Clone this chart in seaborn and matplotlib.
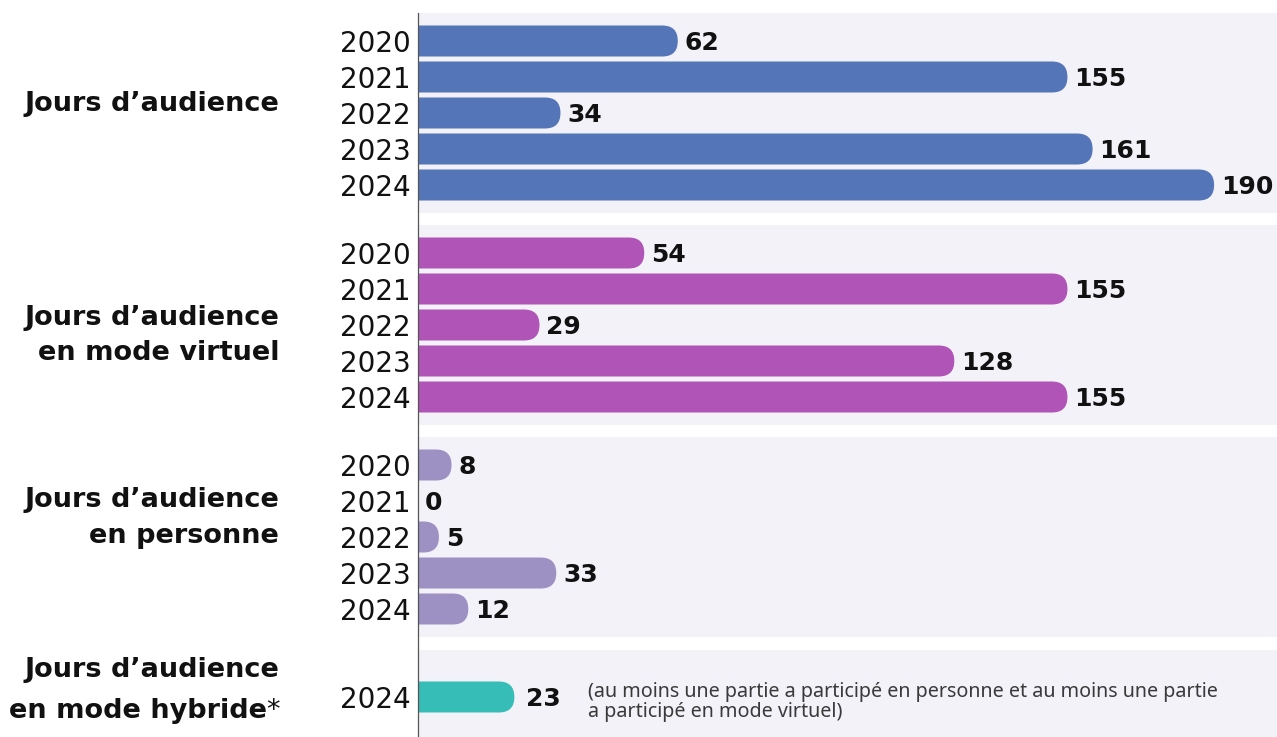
import numpy as np
import pandas as pd
import matplotlib
matplotlib.use("Agg")
import matplotlib.pyplot as plt
import seaborn as sns
from matplotlib.patches import FancyBboxPatch
from matplotlib.transforms import blended_transform_factory

# ---------------- data ----------------
group_lines = [
    ["Jours d’audience"],
    ["Jours d’audience", "en mode virtuel"],
    ["Jours d’audience", "en personne"],
    ["Jours d’audience", "en mode hybride"],
]
years_main = ["2020", "2021", "2022", "2023", "2024"]
jours = [62, 155, 34, 161, 190]
virtuel = [54, 155, 29, 128, 155]
personne = [8, 0, 5, 33, 12]
hybride_years = ["2024"]
hybride = [23]
note_lines = ["(au moins une partie a participé en personne et au moins une partie",
              "a participé en mode virtuel)"]
colors = ["#5475b8", "#b054b7", "#9d91c4", "#36bdb7"]

# ---------------- layout (pixels) ----------------
FIG_W, FIG_H = 1277, 737
AX_LEFT, AX_TOP = 418, 13
PX_PER_UNIT = 4.19
ROW = 36
BAR_H = 31
panel_tops = [13, 225, 437, 650]
panel_h = [200, 200, 200, 100]
first_offset = [28, 28, 28, 47]
label_baselines = [[98], [100, 135], [70, 106], [27, 68]]

series = [(years_main, jours), (years_main, virtuel), (years_main, personne), (hybride_years, hybride)]
rows = []
for g, (yrs, vals) in enumerate(series):
    for i, (yr, v) in enumerate(zip(yrs, vals)):
        rows.append({"group": g, "year": yr, "value": v,
                     "ypos": float(panel_tops[g] + first_offset[g] + ROW * i)})
df = pd.DataFrame(rows)

sns.set_style("white")
plt.rcParams["font.family"] = ["DejaVu Sans"]

fig = plt.figure(figsize=(FIG_W / 100, FIG_H / 100), dpi=100)
ax = fig.add_axes([AX_LEFT / FIG_W, 0, (FIG_W - AX_LEFT) / FIG_W, (FIG_H - AX_TOP) / FIG_H])

sns.barplot(data=df, x="value", y="ypos", hue="group", palette=colors, orient="h",
            native_scale=True, width=BAR_H / ROW, legend=False, errorbar=None,
            saturation=1, dodge=False, ax=ax)

xmax = (FIG_W - AX_LEFT) / PX_PER_UNIT
ax.set_xlim(0, xmax)
ax.set_ylim(FIG_H, AX_TOP)

# value labels
for g, cont in enumerate(ax.containers):
    pad = 8.5 if g == 3 else 5
    anns = ax.bar_label(cont, labels=[str(v) for v in series[g][1]], padding=pad,
                        fontsize=18, fontweight="bold", color="#111111")
    for a in anns:
        a.xyann = (pad, -1.5)

# rounded right ends
r_px = BAR_H / 2
r = r_px / PX_PER_UNIT
aspect = r_px / r
for rect in list(ax.patches):
    x0, y0 = rect.get_x(), rect.get_y()
    w, h = rect.get_width(), rect.get_height()
    fc = rect.get_facecolor()
    rect.remove()
    if w <= 0:
        continue
    ax.add_patch(FancyBboxPatch((x0 - r, y0), w + r, h,
                                boxstyle=f"round,pad=0,rounding_size={r}",
                                mutation_aspect=aspect, facecolor=fc, lw=0, zorder=2))

# panel backgrounds (added after bar reshaping)
for top, h in zip(panel_tops, panel_h):
    ax.axhspan(top, top + h, facecolor="#f3f2f8", lw=0, zorder=0)

# axes styling
for s in ["top", "right", "bottom"]:
    ax.spines[s].set_visible(False)
ax.spines["left"].set_color("#555555")
ax.spines["left"].set_linewidth(0.9)
ax.spines["left"].set_zorder(5)
ax.set_xticks([])
ax.set_yticks(df["ypos"], labels=df["year"])
ax.tick_params(axis="y", length=0, pad=5.5, labelsize=20, labelcolor="#111111")
ax.set_xlabel("")
ax.set_ylabel("")

# group labels
tr = blended_transform_factory(ax.transAxes, ax.transData)
lab_x = (279 - AX_LEFT) / (FIG_W - AX_LEFT)
for g, lines in enumerate(group_lines):
    for j, (line, b) in enumerate(zip(lines, label_baselines[g])):
        is_last_hybrid = (g == 3 and j == len(lines) - 1)
        tx = lab_x - (0.0145 if is_last_hybrid else 0)
        ax.text(tx, panel_tops[g] + b, line, transform=tr, ha="right", va="baseline",
                fontsize=19.5, fontweight="bold", color="#111111", clip_on=False)
        if is_last_hybrid:
            ax.text(tx, panel_tops[g] + b, "*", transform=tr, ha="left", va="baseline",
                    fontsize=19.5, fontweight="normal", color="#111111", clip_on=False)

# note
note_x = (588 - AX_LEFT) / (FIG_W - AX_LEFT)
for line, b in zip(note_lines, [697, 717]):
    ax.text(note_x, b, line, transform=tr, ha="left", va="baseline",
            fontsize=14.2, family=["Noto Sans", "DejaVu Sans"], color="#3a3a3a")

fig.savefig("out.png", dpi=100)
